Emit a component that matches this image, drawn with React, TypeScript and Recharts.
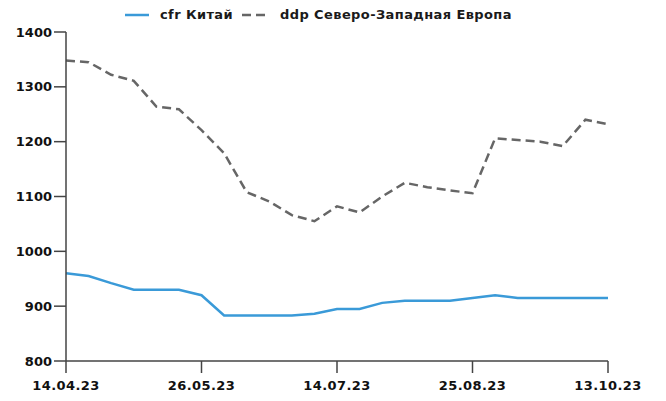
import { LineChart, Line, XAxis, YAxis } from 'recharts';

const dates = [
  '14.04.23', '21.04.23', '28.04.23', '05.05.23', '12.05.23', '19.05.23', '26.05.23',
  '02.06.23', '09.06.23', '16.06.23', '30.06.23', '07.07.23', '14.07.23',
  '21.07.23', '28.07.23', '04.08.23', '11.08.23', '18.08.23', '25.08.23',
  '01.09.23', '08.09.23', '15.09.23', '29.09.23', '06.10.23', '13.10.23',
];
const cfrChina = [
  960, 955, 942, 930, 930, 930, 920, 883, 883, 883, 883, 886, 895,
  895, 906, 910, 910, 910, 915, 920, 915, 915, 915, 915, 915,
];
const ddpNwEurope = [
  1348, 1345, 1322, 1311, 1264, 1259, 1221, 1179, 1108, 1091, 1066, 1055, 1082,
  1071, 1100, 1125, 1117, 1111, 1106, 1206, 1203, 1200, 1192, 1240, 1232,
];
const yTicks = [800, 900, 1000, 1100, 1200, 1300, 1400];

const BLUE = '#3a9ad8';
const GRAY = '#666666';
const AXIS = '#444444';
const FONT = '"DejaVu Sans", sans-serif';

const data = dates.map((d, i) => ({ date: d, cfr: cfrChina[i], ddp: ddpNwEurope[i] }));

const yTickStyle = { fill: '#111', fontSize: 13, fontWeight: 'bold', fontFamily: FONT };
const xTickStyle = { ...yTickStyle, letterSpacing: 0.4 };

function LegendRow() {
  return (
    <div
      style={{
        position: 'absolute', left: 117, top: -2, display: 'flex', alignItems: 'center',
        fontFamily: FONT, fontWeight: 'bold', fontSize: 13, color: '#1a1a1a',
        lineHeight: '18px', letterSpacing: 0.4,
      }}
    >
      <svg width={24} height={4} style={{ marginRight: 11 }}>
        <line x1={0} y1={2} x2={24} y2={2} stroke={BLUE} strokeWidth={2.5} />
      </svg>
      <span>cfr Китай</span>
      <svg width={23} height={4} style={{ marginLeft: 9, marginRight: 15 }}>
        <line x1={0} y1={2} x2={23} y2={2} stroke={GRAY} strokeWidth={2.5} strokeDasharray="9 5" />
      </svg>
      <span>ddp Северо-Западная Европа</span>
    </div>
  );
}

export default function App() {
  return (
    <div style={{ position: 'relative', width: 650, height: 392 }}>
      <LegendRow />
      <LineChart width={650} height={392} data={data} margin={{ top: 24, right: 50, bottom: 0, left: 0 }}>
        <XAxis
          dataKey="date"
          interval={5}
          height={39}
          tick={xTickStyle}
          tickSize={12}
          tickMargin={8}
          axisLine={{ stroke: AXIS, strokeWidth: 1.5 }}
          tickLine={{ stroke: AXIS, strokeWidth: 1.5 }}
        />
        <YAxis
          domain={[800, 1400]}
          ticks={yTicks}
          width={58}
          tick={yTickStyle}
          tickSize={12}
          tickMargin={2}
          axisLine={{ stroke: AXIS, strokeWidth: 1.5 }}
          tickLine={{ stroke: AXIS, strokeWidth: 1.5 }}
        />
        <Line type="linear" dataKey="cfr" stroke={BLUE} strokeWidth={2.5} dot={false} isAnimationActive={false} />
        <Line
          type="linear"
          dataKey="ddp"
          stroke={GRAY}
          strokeWidth={2.5}
          strokeDasharray="9 5"
          dot={false}
          isAnimationActive={false}
        />
      </LineChart>
    </div>
  );
}
